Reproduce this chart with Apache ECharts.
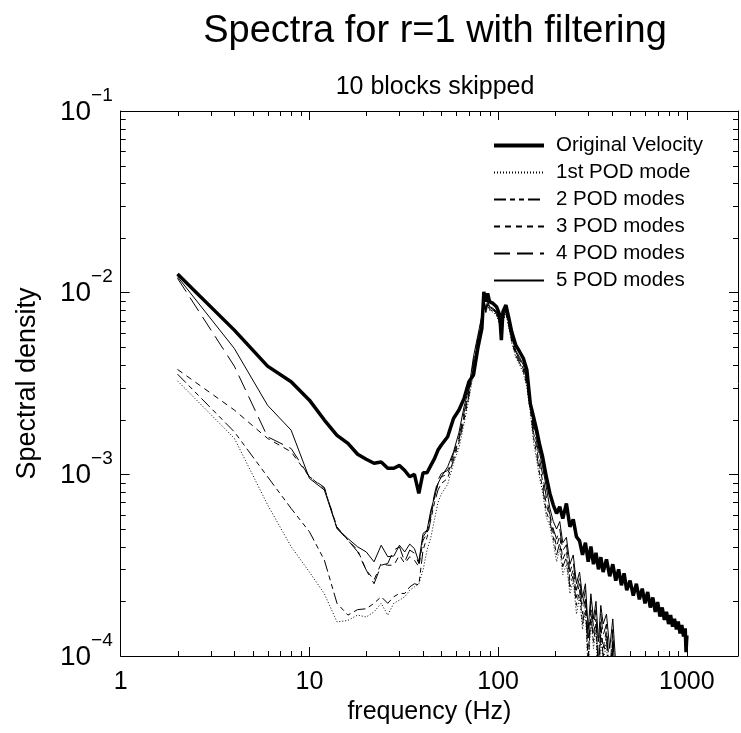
<!DOCTYPE html>
<html>
<head>
<meta charset="utf-8">
<title>Spectra for r=1 with filtering</title>
<script src="https://cdn.jsdelivr.net/npm/echarts@6.0.0/dist/echarts.min.js"></script>
<style>
    html, body { margin: 0; padding: 0; background: #fff; }
    #spec { width: 741px; height: 733px; }
</style>
</head>
<body>
<div id="spec"></div>
<script>
/* frequencies (Hz) */
const freq = [
    2, 4, 6, 8, 10, 12, 14, 16, 18, 20, 22, 24, 26, 28, 30, 32, 34, 36, 38, 40, 42, 44, 46, 48, 50,
    54, 58, 62, 66, 70, 74, 78, 82, 84, 86, 88, 90, 94, 98, 102, 104, 106, 110, 114, 118,
    124, 130, 136, 142, 148, 154, 160, 166, 172, 180, 188, 196, 204, 212, 220, 230, 240, 250, 260,
    270, 280, 290, 300, 310, 320, 330, 340, 350, 360, 375, 390, 405, 420, 435, 450, 465, 480,
    500, 520, 540, 560, 580, 600, 620, 640, 660, 680, 700, 720, 740, 760, 780, 800, 820, 840,
    860, 880, 900, 920, 940, 960, 980, 990, 1000
];

/* Original Velocity */
const origVel = [
    0.01265, 0.00622, 0.00394, 0.00323, 0.00256, 0.00199, 0.00164, 0.00148, 0.00129, 0.00121,
    0.00115, 0.00117, 0.00108, 0.00108, 0.00112, 0.00105, 0.00097, 0.00100, 0.000785, 0.00102,
    0.00102, 0.00112, 0.00122, 0.00136, 0.00145,
    0.00161, 0.00203, 0.00226, 0.00262, 0.00323, 0.00352, 0.00493, 0.00636, 0.0101, 0.00892,
    0.0099, 0.00892, 0.00873, 0.00837, 0.00752, 0.00548, 0.00785, 0.00855, 0.00722, 0.00609,
    0.00514, 0.00473, 0.00435, 0.00375, 0.00245, 0.00207, 0.00175, 0.00145, 0.00125, 0.00097,
    0.000785, 0.000677, 0.000609, 0.000663, 0.000571, 0.000691, 0.000514, 0.000565, 0.000453,
    4.3e-4, 3.6e-4, 4.2e-4, 3.3e-4, 4.0e-4, 3.2e-4, 3.7e-4, 3.0e-4, 3.5e-4, 2.9e-4,
    3.4e-4, 2.75e-4, 3.2e-4, 2.6e-4, 3.0e-4, 2.45e-4, 2.85e-4, 2.3e-4,
    2.6e-4, 2.15e-4, 2.5e-4, 2.05e-4, 2.35e-4, 1.95e-4, 2.25e-4, 1.85e-4, 2.1e-4, 1.75e-4,
    1.98e-4, 1.65e-4, 1.85e-4, 1.58e-4, 1.75e-4, 1.5e-4, 1.68e-4, 1.45e-4, 1.6e-4, 1.4e-4,
    1.55e-4, 1.33e-4, 1.48e-4, 1.28e-4, 1.42e-4, 1.05e-4, 1.3e-4
];

/* 1st POD mode */
const pod1 = [
    0.00327, 0.00158, 0.00068, 0.00040, 0.00029, 0.00022, 0.000154, 0.000157, 0.000168, 0.000164,
    0.000175, 0.000195, 0.000168, 0.000195, 0.000203, 0.000212, 0.00023, 0.00024, 0.00025, 0.000297,
    0.000383, 0.00045, 0.000565, 0.0007, 0.00078,
    0.00088, 0.00115, 0.0014, 0.0019, 0.0026, 0.0036, 0.0050, 0.0067, 0.0084, 0.0077,
    0.0085, 0.0080, 0.0078, 0.0075, 0.0066, 0.0064, 0.0070, 0.0076, 0.0064, 0.0053,
    0.0044, 0.0040, 0.0036, 0.0030, 0.0022, 0.0015, 0.0012, 0.00095, 0.0008, 0.00058,
    0.00052, 0.00042, 0.00033, 0.00039, 0.00028, 0.00032, 0.00022, 0.00026, 0.00017,
    0.00021, 0.00014, 0.00018, 0.00008, 0.00016, 0.00011, 0.00014, 0.00006, 0.00013, 0.00009,
    0.00012, 0.00005, 0.00011, 0.00004
];

/* 2 POD modes */
const pod2 = [
    0.00356, 0.001714, 0.00097, 0.000649, 0.000483, 0.000337, 0.000195, 0.000168, 0.00018, 0.000182,
    0.000195, 0.000212, 0.000195, 0.000212, 0.000221, 0.000221, 0.00024, 0.00025, 0.000246, 0.000383,
    0.00045, 0.000565, 0.0007, 0.00082, 0.00089,
    0.00095, 0.0012, 0.0015, 0.0020, 0.0027, 0.0038, 0.0052, 0.0069, 0.0086, 0.0078,
    0.0086, 0.0081, 0.0079, 0.0076, 0.0067, 0.0063, 0.0071, 0.0077, 0.0065, 0.0054,
    0.0045, 0.0041, 0.0037, 0.0031, 0.0023, 0.0016, 0.0013, 0.0010, 0.00085, 0.00062,
    0.00055, 0.00045, 0.00036, 0.00042, 0.00031, 0.00035, 0.00024, 0.00028, 0.00019,
    0.00023, 0.00015, 0.00019, 0.00009, 0.00017, 0.00012, 0.00015, 0.00007, 0.00014, 0.0001,
    0.00013, 0.00006, 0.00012, 0.00005
];

/* 3 POD modes */
const pod3 = [
    0.00378, 0.00226, 0.001576, 0.00133, 0.00097, 0.000836, 0.000514, 0.000434, 0.000383, 0.000297,
    0.000262, 0.000323, 0.000316, 0.000316, 0.000359, 0.000323, 0.000352, 0.000337, 0.00031, 0.000434,
    0.000472, 0.000583, 0.000752, 0.00089, 0.00097,
    0.00100, 0.00125, 0.00155, 0.0021, 0.0028, 0.0040, 0.0054, 0.0071, 0.0088, 0.0079,
    0.0087, 0.0082, 0.0080, 0.0077, 0.0068, 0.0062, 0.0072, 0.0078, 0.0066, 0.0055,
    0.0046, 0.0042, 0.0038, 0.0032, 0.0024, 0.0017, 0.0014, 0.0011, 0.00092, 0.00068,
    0.00058, 0.00048, 0.0004, 0.00046, 0.00034, 0.00038, 0.00026, 0.0003, 0.00021,
    0.00025, 0.00017, 0.00021, 0.0001, 0.00018, 0.00013, 0.00016, 0.00008, 0.00015, 0.00011,
    0.00014, 0.00007, 0.00013, 0.00005
];

/* 4 POD modes */
const pod4 = [
    0.0120, 0.00394, 0.00161, 0.001387, 0.00097, 0.000847, 0.000504, 0.000434, 0.000375, 0.000297,
    0.00025, 0.000316, 0.000323, 0.000383, 0.000399, 0.00033, 0.000383, 0.000368, 0.000323, 0.000453,
    0.00049, 0.00061, 0.00078, 0.00093, 0.00101,
    0.00105, 0.0013, 0.0016, 0.0022, 0.0029, 0.0042, 0.0056, 0.0073, 0.0090, 0.0080,
    0.0088, 0.0083, 0.0081, 0.0078, 0.0069, 0.0060, 0.0073, 0.0079, 0.0067, 0.0056,
    0.0047, 0.0043, 0.0039, 0.0033, 0.0026, 0.0018, 0.0015, 0.0012, 0.0010, 0.00075,
    0.0006, 0.0005, 0.00044, 0.0005, 0.00038, 0.00041, 0.00029, 0.00033, 0.00023,
    0.00027, 0.00019, 0.00023, 0.00012, 0.0002, 0.000145, 0.00018, 0.00009, 0.00017, 0.00013,
    0.00015, 0.00008, 0.00014, 0.00006
];

/* 5 POD modes */
const pod5 = [
    0.01224, 0.00493, 0.0024, 0.00175, 0.00095, 0.00082, 0.000504, 0.000443, 0.000399, 0.000374,
    0.00033, 0.000407, 0.000352, 0.000355, 0.000407, 0.000374, 0.000413, 0.00039, 0.00033, 0.000473,
    0.000493, 0.000635, 0.00075, 0.00089, 0.00097,
    0.0011, 0.00133, 0.0017, 0.00236, 0.00297, 0.00444, 0.0058, 0.0075, 0.0092, 0.0082,
    0.0090, 0.0084, 0.0082, 0.0079, 0.0070, 0.0058, 0.0074, 0.0080, 0.0068, 0.0057,
    0.0048, 0.0044, 0.0040, 0.0034, 0.0025, 0.0019, 0.0016, 0.0013, 0.0011, 0.00085,
    0.00065, 0.00055, 0.0005, 0.00055, 0.00042, 0.00045, 0.00032, 0.00036, 0.00025,
    0.00029, 0.00021, 0.00025, 0.00014, 0.00022, 0.00016, 0.0002, 0.00012, 0.00019, 0.00015,
    0.00017, 0.00011, 0.00016, 0.00009
];

const seriesNames = ['Original Velocity', '1st POD mode', '2 POD modes', '3 POD modes', '4 POD modes', '5 POD modes'];

/* axis ranges */
const xMin = 1, xMax = 1866;
const yMin = 1e-4, yMax = 1e-1;

const FONT = 'Liberation Sans, Arial, Helvetica, sans-serif';

/* zip a value list with the frequencies */
const pairs = function (vals) {
    return vals.map(function (v, i) { return [freq[i], v]; });
};

const isPow10 = function (v) {
    const e = Math.log10(v);
    return Math.abs(e - Math.round(e)) < 1e-6;
};

/* minor ticks 2..9 in every decade */
const minorX = [], minorY = [];
[1, 10, 100, 1000].forEach(function (d) {
    for (let k = 2; k <= 9; k++) { if (k * d < xMax) minorX.push(k * d); }
});
[1e-4, 1e-3, 1e-2].forEach(function (d) {
    for (let k = 2; k <= 9; k++) { minorY.push(k * d); }
});

const drawSpectra = function () {
    let myChart = echarts.init(document.getElementById('spec'));

    const lineOf = function (name, vals, width, dash) {
        return {
            name: name,
            type: 'line',
            data: pairs(vals),
            symbol: 'none',
            showSymbol: false,
            clip: true,
            xAxisIndex: 0,
            yAxisIndex: 0,
            itemStyle: { color: '#000' },
            lineStyle: { color: '#000', width: width, type: dash }
        };
    };

    const tickLine = function (x1, y1, x2, y2) {
        return {
            type: 'line',
            shape: { x1: x1, y1: y1, x2: x2, y2: y2 },
            style: { stroke: '#000', lineWidth: 1 }
        };
    };

    const axisCommon = {
        axisLine: { show: true, lineStyle: { color: '#000', width: 1 } },
        axisTick: { show: true, inside: true, length: 9, lineStyle: { color: '#000' } },
        splitLine: { show: false },
        minorTick: { show: false }
    };

    /* legend entries, the first one drawn thick */
    const legendData = seriesNames.map(function (n, i) {
        return i === 0 ? { name: n, lineStyle: { width: 4 } } : { name: n };
    });

    let option = {
        animation: false,
        backgroundColor: '#fff',
        title: [
            {
                text: 'Spectra for r=1 with filtering',
                left: 430, top: 8, textAlign: 'center',
                textStyle: { fontFamily: FONT, fontSize: 38, fontWeight: 'normal', color: '#000' }
            },
            {
                text: '10 blocks skipped',
                left: 430, top: 70, textAlign: 'center',
                textStyle: { fontFamily: FONT, fontSize: 25, fontWeight: 'normal', color: '#000' }
            }
        ],
        legend: {
            data: legendData,
            orient: 'vertical',
            left: 487, top: 130,
            itemWidth: 50, itemHeight: 14, itemGap: 6,
            itemStyle: { opacity: 0 },
            textStyle: { fontFamily: FONT, fontSize: 20.5, lineHeight: 20, color: '#000', padding: [0, 0, 0, 7] }
        },
        grid: { left: 120.7, right: 1, top: 111, bottom: 77 },
        xAxis: [
            Object.assign({}, axisCommon, {
                type: 'log', logBase: 10, min: xMin, max: xMax, position: 'bottom',
                name: 'frequency (Hz)', nameLocation: 'middle', nameGap: 38,
                nameTextStyle: { fontFamily: FONT, fontSize: 25, color: '#000' },
                axisLabel: {
                    fontFamily: FONT, fontSize: 25, color: '#000', margin: 14,
                    formatter: function (v) { return isPow10(v) ? String(Math.round(v)) : ''; }
                }
            }),
            Object.assign({}, axisCommon, {
                type: 'log', logBase: 10, min: xMin, max: xMax, position: 'top',
                axisLabel: { show: false }
            })
        ],
        yAxis: [
            Object.assign({}, axisCommon, {
                type: 'log', logBase: 10, min: yMin, max: yMax, position: 'left',
                name: 'Spectral density', nameLocation: 'middle', nameGap: 80, nameRotate: 90,
                nameTextStyle: { fontFamily: FONT, fontSize: 27, color: '#000' },
                axisLabel: {
                    margin: 8,
                    padding: [0, 0, 10, 0],
                    formatter: function (v) {
                        if (!isPow10(v)) return '';
                        const e = Math.round(Math.log10(v));
                        return '{b|10}{s|' + (e < 0 ? '\u2212' + (-e) : e) + '}';
                    },
                    rich: {
                        b: { fontFamily: FONT, fontSize: 28, color: '#000', lineHeight: 40, verticalAlign: 'bottom' },
                        s: { fontFamily: FONT, fontSize: 19, color: '#000', lineHeight: 19, verticalAlign: 'top' }
                    }
                }
            }),
            Object.assign({}, axisCommon, {
                type: 'log', logBase: 10, min: yMin, max: yMax, position: 'right',
                axisLabel: { show: false }
            })
        ],
        series: [
            lineOf(seriesNames[0], origVel, 3.5, 'solid'),
            lineOf(seriesNames[1], pod1, 1, [1, 2]),
            lineOf(seriesNames[2], pod2, 1, [12, 4, 5, 4, 5, 4]),
            lineOf(seriesNames[3], pod3, 1, [6, 5]),
            lineOf(seriesNames[4], pod4, 1, [16, 7]),
            lineOf(seriesNames[5], pod5, 1, 'solid'),
            {
                /* minor ticks on all four sides */
                type: 'custom',
                silent: true,
                xAxisIndex: 0,
                yAxisIndex: 0,
                data: [[xMin, yMin]],
                renderItem: function (params, api) {
                    const cs = params.coordSys;
                    const kids = [];
                    const bottom = cs.y + cs.height, right = cs.x + cs.width;
                    minorX.forEach(function (v) {
                        const x = Math.round(api.coord([v, yMin])[0]) + 0.5;
                        kids.push(tickLine(x, bottom, x, bottom - 5));
                        kids.push(tickLine(x, cs.y, x, cs.y + 5));
                    });
                    minorY.forEach(function (v) {
                        const y = Math.round(api.coord([xMin, v])[1]) + 0.5;
                        kids.push(tickLine(cs.x, y, cs.x + 5, y));
                        kids.push(tickLine(right, y, right - 5, y));
                    });
                    return { type: 'group', children: kids };
                }
            }
        ]
    };

    myChart.setOption(option);
};

drawSpectra();
</script>
</body>
</html>
